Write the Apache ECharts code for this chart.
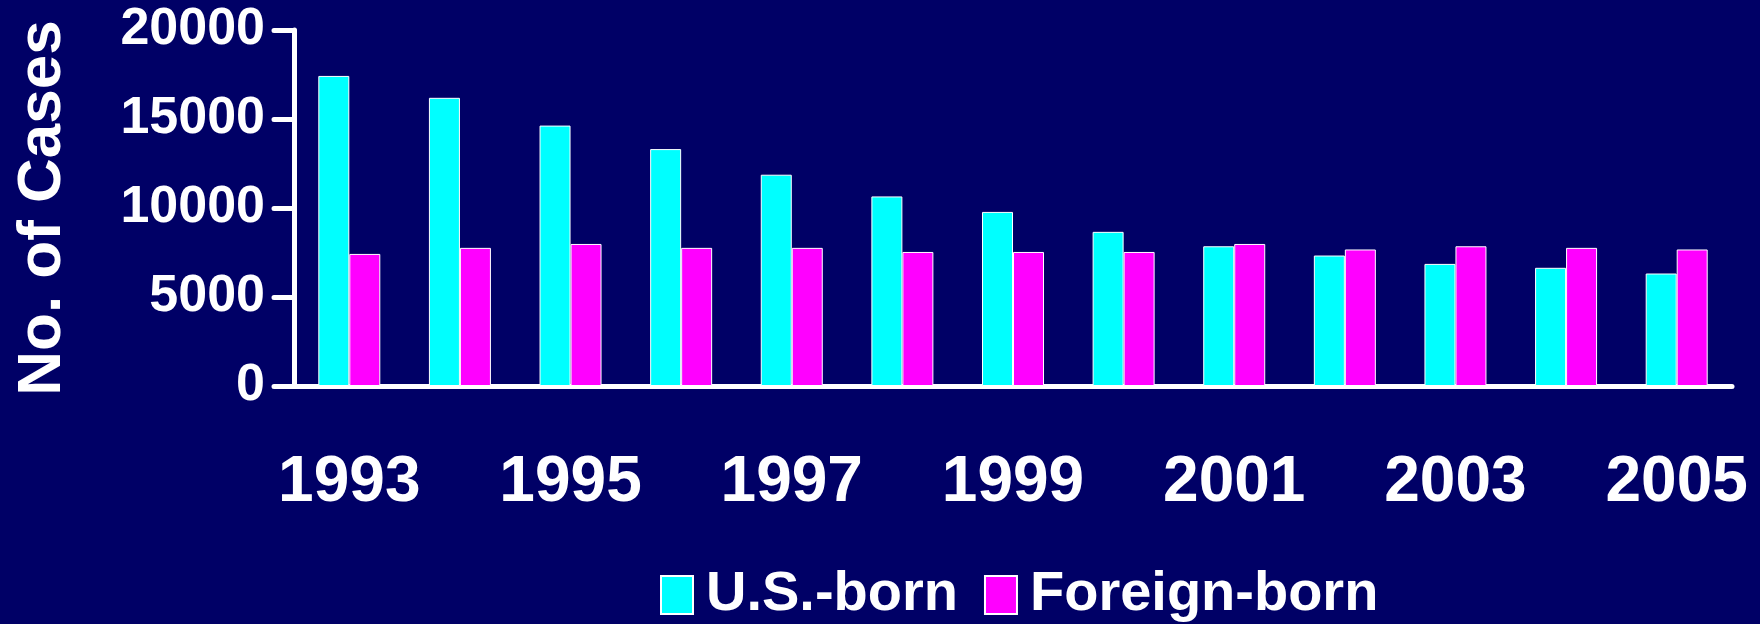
<!DOCTYPE html>
<html>
<head>
<meta charset="utf-8">
<script src="https://cdn.jsdelivr.net/npm/echarts@6/dist/echarts.min.js"></script>
<style>
    html, body {margin: 0; padding: 0; background: #000066;}
    #chart {width: 1760px; height: 624px;}
</style>
</head>
<body>
<div id="chart"></div>
<script>
let years = ['1993', '1994', '1995', '1996', '1997', '1998', '1999', '2000', '2001', '2002', '2003', '2004', '2005']
let usBorn = [17420, 16190, 14630, 13310, 11870, 10650, 9780, 8660, 7850, 7330, 6860, 6640, 6320]
let foreignBorn = [7420, 7760, 7980, 7760, 7760, 7530, 7530, 7530, 7980, 7670, 7850, 7760, 7670]

let chart = echarts.init(document.getElementById('chart'));
let font = '"Liberation Sans", Arial, sans-serif'

let option = {
    backgroundColor: '#000066',
    animation: false,
    grid: {left: 294, right: 28, top: 30, bottom: 238},
    legend: {
        top: 562,
        left: 655,
        icon: 'rect',
        itemWidth: 32,
        itemHeight: 38,
        itemGap: 26,
        textStyle: {
            color: '#ffffff',
            fontFamily: font,
            fontWeight: 'bold',
            fontSize: 56,
            padding: [0, 0, 0, 8]
        },
        data: ['U.S.-born', 'Foreign-born']
    },
    xAxis: {
        type: 'category',
        data: years,
        axisTick: {show: false},
        axisLine: {lineStyle: {color: '#ffffff', width: 5, cap: 'round'}},
        axisLabel: {
            interval: 1,
            color: '#ffffff',
            fontFamily: font,
            fontWeight: 'bold',
            fontSize: 64,
            margin: 65
        }
    },
    yAxis: {
        type: 'value',
        min: 0,
        max: 20000,
        interval: 5000,
        name: 'No. of Cases',
        nameLocation: 'middle',
        nameGap: 220,
        nameTextStyle: {color: '#ffffff', fontFamily: font, fontWeight: 'bold', fontSize: 62},
        splitLine: {show: false},
        axisLine: {show: true, lineStyle: {color: '#ffffff', width: 5, cap: 'round'}},
        axisTick: {show: true, length: 20, lineStyle: {color: '#ffffff', width: 5, cap: 'round'}},
        axisLabel: {
            color: '#ffffff',
            fontFamily: font,
            fontWeight: 'bold',
            fontSize: 52,
            margin: 29,
            formatter: function (v) {
                return String(v)
            }
        }
    },
    series: [
        {
            name: 'U.S.-born',
            type: 'bar',
            data: usBorn,
            barWidth: 31,
            barGap: '0%',
            itemStyle: {color: '#00ffff', borderColor: '#ffffff', borderWidth: 1}
        },
        {
            name: 'Foreign-born',
            type: 'bar',
            data: foreignBorn,
            barWidth: 31,
            barGap: '0%',
            itemStyle: {color: '#ff00ff', borderColor: '#ffffff', borderWidth: 1}
        }
    ]
};
chart.setOption(option);
</script>
</body>
</html>
